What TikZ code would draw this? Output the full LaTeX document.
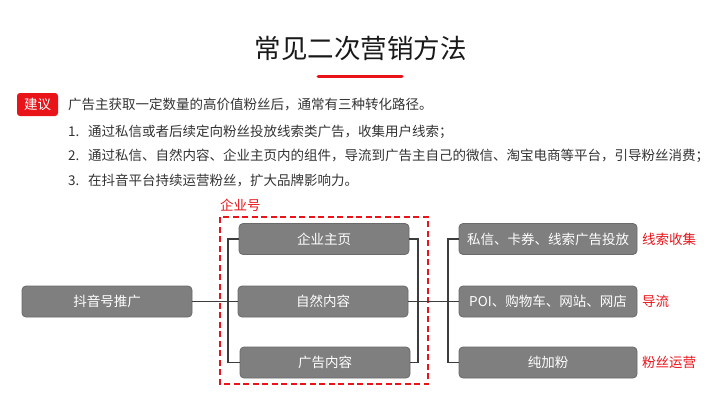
\documentclass[tikz,border=0pt]{standalone}
\usepackage{fontspec}
\newfontfamily\cjk{Noto Sans CJK SC}
\definecolor{myred}{HTML}{E8141A}
\definecolor{boxgray}{HTML}{7F7F7F}
\definecolor{boxedge}{HTML}{6A6A6A}
\definecolor{linegray}{HTML}{3C3C3C}
\definecolor{txt}{HTML}{333333}
\begin{document}
\begin{tikzpicture}[x=1pt,y=-1pt,
  every node/.style={font=\cjk\fontsize{13.5}{16}\selectfont, inner sep=0pt},
  graybox/.style={draw=boxedge, line width=0.8pt, fill=boxgray, rounded corners=4pt,
    minimum height=31pt, text=white},
  conn/.style={draw=linegray, line width=1.5pt},
  redlab/.style={text=myred, anchor=west},
  bodytxt/.style={text=txt, anchor=west}]
\useasboundingbox (0,0) rectangle (720,405);
% title
\node[font=\cjk\fontsize{26.5}{30}\selectfont, text=black!90] (title) at (360.5,48) {常见二次营销方法};
\draw[myred, line width=3pt, line cap=round] (318,76) -- (402,76);
% suggestion
\node[fill=myred, rounded corners=3pt, text=white, minimum width=41pt, minimum height=23pt] (tag) at (37.5,104.5) {建议};
\node[bodytxt] (l0) at (68,105) {广告主获取一定数量的高价值粉丝后，通常有三种转化路径。};
\node[bodytxt] (n1) at (68,131.5) {1.};
\node[bodytxt] (l1) at (88,131.5) {通过私信或者后续定向粉丝投放线索类广告，收集用户线索；};
\node[bodytxt] (n2) at (68,156) {2.};
\node[bodytxt] (l2) at (88,156) {通过私信、自然内容、企业主页内的组件，导流到广告主自己的微信、淘宝电商等平台，引导粉丝消费；};
\node[bodytxt] (n3) at (68,180.5) {3.};
\node[bodytxt] (l3) at (88,180.5) {在抖音平台持续运营粉丝，扩大品牌影响力。};
% diagram
\node[graybox, minimum width=170pt] (L) at (107,301.5) {抖音号推广};
\node[graybox, minimum width=170pt] (M1) at (324,239) {企业主页};
\node[graybox, minimum width=170pt] (M2) at (323,301.5) {自然内容};
\node[graybox, minimum width=170pt] (M3) at (325,362.5) {广告内容};
\node[graybox, minimum width=178pt] (R1) at (548,239) {私信、卡券、线索广告投放};
\node[graybox, minimum width=178pt] (R2) at (548,301.5) {POI、购物车、网站、网店};
\node[graybox, minimum width=178pt] (R3) at (548,362.5) {纯加粉};
\node[redlab] (c1) at (642,239) {线索收集};
\node[redlab] (c2) at (642,301.5) {导流};
\node[redlab] (c3) at (642,362.5) {粉丝运营};
% dashed group
\draw[myred, line width=2pt, dash pattern=on 6pt off 3.5pt] (220,217) rectangle (428,384);
\node[redlab] (grp) at (220,205) {企业号};
% connectors
\coordinate (jl) at (228,301.5);
\coordinate (jr) at (418,301.5);
\coordinate (jr2) at (448,301.5);
\draw[conn] (L.east) -- (M2.west);
\draw[conn] (M1.west) -| (jl) |- (M3.west);
\draw[conn] (M1.east) -| (jr) |- (M3.east);
\draw[conn] (M2.east) -- (jr2);
\draw[conn] (R1.west) -| (jr2) |- (R3.west);
\draw[conn] (jr2) -- (R2.west);
\end{tikzpicture}
\end{document}
